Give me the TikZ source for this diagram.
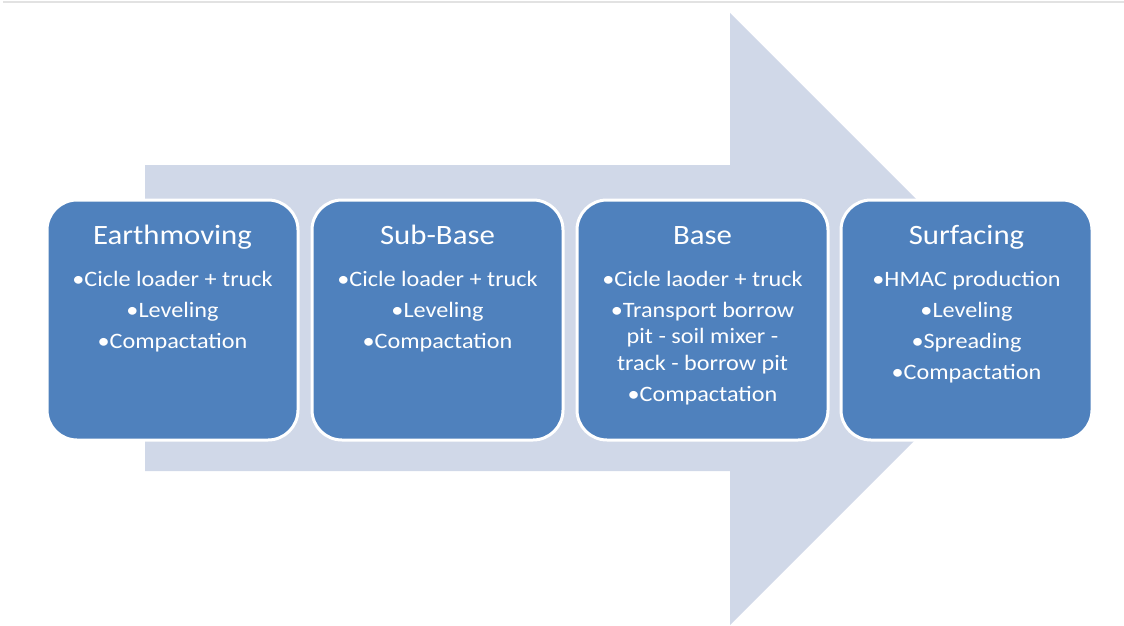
\documentclass[tikz,border=0pt]{standalone}
\usepackage{fontspec}
\setmainfont[FakeStretch=1.1]{Carlito}
\definecolor{stageblue}{RGB}{79,129,189}
\definecolor{flowgray}{RGB}{208,216,232}
\definecolor{rulegray}{RGB}{226,226,226}
\tikzset{
  stagebox/.style={draw=white, line width=3pt, fill=stageblue, rounded corners=30pt,
    minimum width=251pt, minimum height=240pt, inner sep=0pt},
  stagetitle/.style={text=white, inner sep=0pt, anchor=base, font=\fontsize{28}{30}\selectfont},
  stageitems/.style={text=white, inner sep=0pt, anchor=north, align=center,
    font=\fontsize{22}{26.5}\selectfont},
}
\begin{document}
\begin{tikzpicture}[x=1pt,y=1pt,yscale=-1,xscale=1]
\useasboundingbox (0,0) rectangle (1124,626);

%Top rule
\draw [rulegray, line width=1.5pt] (3,2) -- (1124,2) ;
%Shape: Right Arrow
\fill [flowgray] (145,165) -- (730,165) -- (730,13) -- (1036,319) -- (730,625) -- (730,471) -- (145,471) -- cycle ;

%Stage boxes
\node [stagebox] (earth) at (172.5,320) {};
\node [stagebox] (subbase) at (437.5,320) {};
\node [stagebox] (base) at (702.5,320) {};
\node [stagebox] (surf) at (966.5,320) {};

% Text Node
\node [stagetitle] (earthT) at (172.5,244) {Earthmoving};
\node [stageitems] (earthL) at (172.5,271) {\textbullet Cicle loader + truck\\[4.5pt] \textbullet Leveling\\[4.5pt] \textbullet Compactation};
% Text Node
\node [stagetitle] (subbaseT) at (437.5,244) {Sub-Base};
\node [stageitems] (subbaseL) at (437.5,271) {\textbullet Cicle loader + truck\\[4.5pt] \textbullet Leveling\\[4.5pt] \textbullet Compactation};
% Text Node
\node [stagetitle] (baseT) at (702.5,244) {Base};
\node [stageitems] (baseL) at (702.5,271) {\textbullet Cicle laoder + truck\\[4.5pt] \textbullet Transport borrow\\ pit - soil mixer -\\ track - borrow pit\\[4.5pt] \textbullet Compactation};
% Text Node
\node [stagetitle] (surfT) at (966.5,244) {Surfacing};
\node [stageitems] (surfL) at (966.5,271) {\textbullet HMAC production\\[4.5pt] \textbullet Leveling\\[4.5pt] \textbullet Spreading\\[4.5pt] \textbullet Compactation};
\end{tikzpicture}
\end{document}
